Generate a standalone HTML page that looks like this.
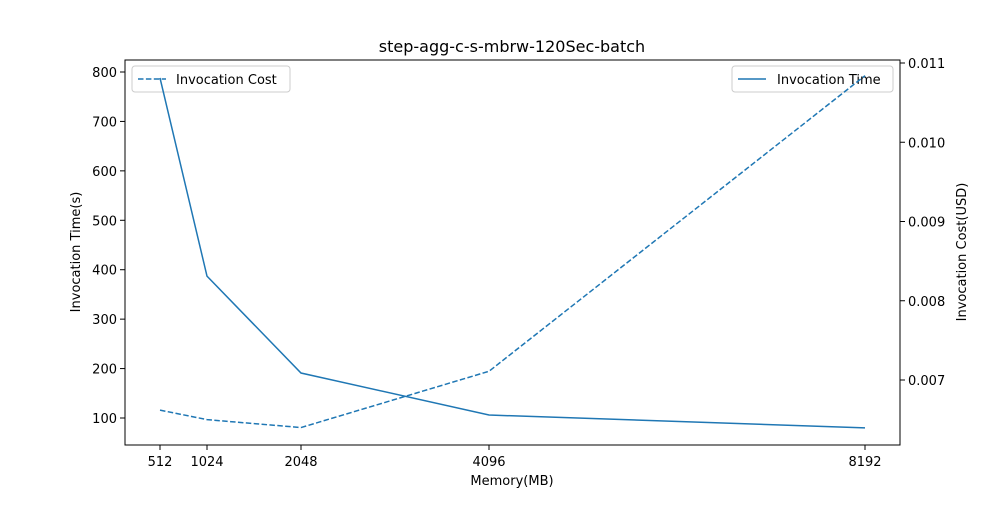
<!DOCTYPE html>
<html><head><meta charset="utf-8"><style>
body{margin:0;background:#fff;font-family:"Liberation Sans","DejaVu Sans",sans-serif;}
svg text{font-family:"DejaVu Sans","Liberation Sans",sans-serif;font-size:13px;fill:#000;}
</style></head><body>
<svg id="chart" width="1000" height="500"></svg>
<script>
const memory=[512,1024,2048,4096,8192];
const timeValues=[788,387,191,106,80];
const costValues=[0.00662,0.00650,0.00640,0.00711,0.01084];
const leftTicks=[100,200,300,400,500,600,700,800];
const rightTicks=[0.007,0.008,0.009,0.010,0.011];
const NS="http://www.w3.org/2000/svg";
const svg=document.getElementById('chart');
const L=125,R=900,T=60,B=445;
const x=v=>160+(v-512)*(705/7680);
const yl=v=>418-(v-100)*(346/700);
const yr=v=>380-(v-0.007)*79250;
function mk(tag,attrs,txt){const e=document.createElementNS(NS,tag);for(const k in attrs)e.setAttribute(k,attrs[k]);if(txt!==undefined)e.textContent=txt;svg.appendChild(e);return e;}
let e;
e=mk('text',{x:512,y:52,'text-anchor':'middle',style:'font-size:16px'},'step-agg-c-s-mbrw-120Sec-batch');


memory.forEach(m=>{
 e=mk('line',{x1:x(m),x2:x(m),y1:B,y2:B+5,stroke:'#000'});
 
 
 e=mk('text',{x:x(m),y:B+21,'text-anchor':'middle'},String(m));
 
 
});
leftTicks.forEach(t=>{
 e=mk('line',{x1:L-5,x2:L,y1:yl(t),y2:yl(t),stroke:'#000'});
 
 
 e=mk('text',{x:L-8,y:yl(t)+5,'text-anchor':'end'},String(t));
 
 
});
rightTicks.forEach(t=>{
 e=mk('line',{x1:R,x2:R+5,y1:yr(t),y2:yr(t),stroke:'#000'});
 
 
 e=mk('text',{x:R+8,y:yr(t)+5},t.toFixed(3));
 
 
});
e=mk('text',{x:512,y:485,'text-anchor':'middle'},'Memory(MB)');


e=mk('text',{x:80,y:252,'text-anchor':'middle',transform:'rotate(-90 80 252)'},'Invocation Time(s)');


e=mk('text',{x:966,y:252,'text-anchor':'middle',transform:'rotate(-90 966 252)'},'Invocation Cost(USD)');


e=mk('rect',{x:132,y:66,width:158,height:26,rx:3,fill:'#fff',stroke:'#ccc'});


e=mk('line',{x1:138,x2:166,y1:79,y2:79,stroke:'#1f77b4','stroke-width':1.5,'stroke-dasharray':'5.5,2.4'});


e=mk('text',{x:176,y:84},'Invocation Cost');


e=mk('rect',{x:732,y:66,width:161,height:26,rx:3,fill:'#fff',stroke:'#ccc'});


e=mk('line',{x1:738,x2:766,y1:79,y2:79,stroke:'#1f77b4','stroke-width':1.5});


e=mk('text',{x:777,y:84},'Invocation Time');


e=mk('polyline',{points:memory.map((m,i)=>x(m)+','+yl(timeValues[i])).join(' '),fill:'none',stroke:'#1f77b4','stroke-width':1.5});


e=mk('polyline',{points:memory.map((m,i)=>x(m)+','+yr(costValues[i])).join(' '),fill:'none',stroke:'#1f77b4','stroke-width':1.5,'stroke-dasharray':'5.5,2.4'});


e=mk('rect',{x:L,y:T,width:R-L,height:B-T,fill:'none',stroke:'#000','stroke-width':1});


</script>
</body></html>
